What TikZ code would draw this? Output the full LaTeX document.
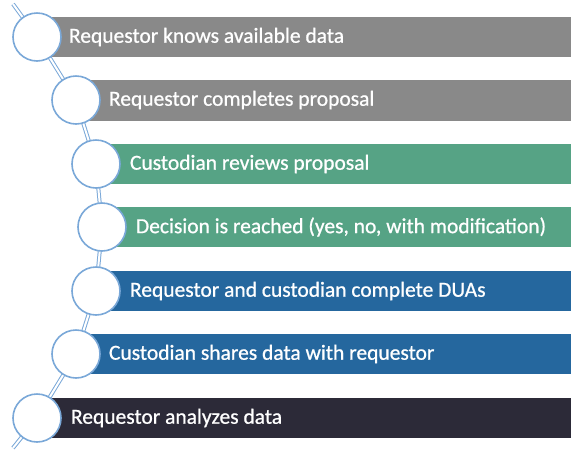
\documentclass[tikz,border=0pt]{standalone}
\usepackage{fontspec}
\setmainfont{Carlito}
\newfontfamily\stepfont{Carlito}[FakeBold=0.8]
\usepackage{xcolor}
\usetikzlibrary{positioning, calc}

\definecolor{bargray}{HTML}{898989}
\definecolor{bargreen}{HTML}{56A385}
\definecolor{barblue}{HTML}{25679E}
\definecolor{bardark}{HTML}{2C2A38}
\definecolor{ringblue}{HTML}{7AA8D8}

\begin{document}
\begin{tikzpicture}[
    x=1pt, y=-1pt,
    circlenode/.style={circle, draw=ringblue, line width=1.6pt, fill=white, minimum size=48pt, inner sep=0pt},
    stepnode/.style={text=white, font=\stepfont\fontsize{21.5}{24}\selectfont, anchor=west, inner sep=0pt},
    linknode/.style={draw=ringblue, double=white, double distance=2pt, line width=1pt},
]
\useasboundingbox (0,0) rectangle (571,451);

% bars
\fill[bargray]  (37,17)  rectangle (571,57);
\fill[bargray]  (76,80)  rectangle (571,121);
\fill[bargreen] (96,144) rectangle (571,184);
\fill[bargreen] (102,207) rectangle (571,247);
\fill[barblue]  (96,271) rectangle (571,311);
\fill[barblue]  (76,334) rectangle (571,374);
\fill[bardark]  (37,398) rectangle (571,438);

% connector behind the circles
\coordinate (top) at (13,4);
\coordinate (bottom) at (13,448);
\draw[linknode] (top) -- (37,37) -- (76,100) -- (96,164) -- (102,227) -- (96,291) -- (76,354) -- (37,418) -- (bottom);

% circles
\node[circlenode](c1) at (37,37){};
\node[circlenode](c2) at (76,100){};
\node[circlenode](c3) at (96,164){};
\node[circlenode](c4) at (102,227){};
\node[circlenode](c5) at (96,291){};
\node[circlenode](c6) at (76,354){};
\node[circlenode](c7) at (37,418){};

% labels
\node[stepnode](t1)[right = 7pt of c1]{Requestor knows available data};
\node[stepnode](t2)[right = 8pt of c2]{Requestor completes proposal};
\node[stepnode](t3)[right = 9pt of c3]{Custodian reviews proposal};
\node[stepnode](t4)[right = 9pt of c4]{Decision is reached (yes, no, with modification)};
\node[stepnode](t5)[right = 9pt of c5]{Requestor and custodian complete DUAs};
\node[stepnode](t6)[right = 8pt of c6]{Custodian shares data with requestor};
\node[stepnode](t7)[right = 9pt of c7]{Requestor analyzes data};
\end{tikzpicture}
\end{document}
